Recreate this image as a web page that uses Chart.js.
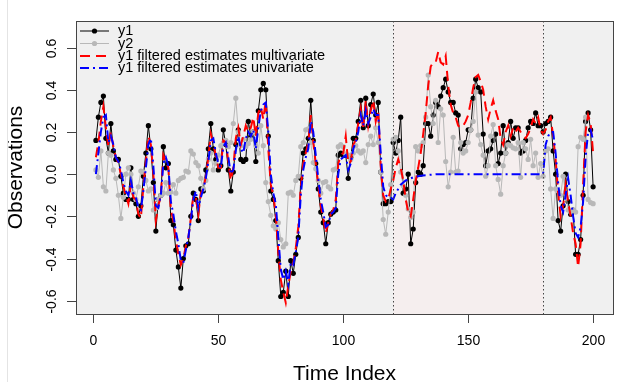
<!DOCTYPE html>
<html>
<head>
<meta charset="utf-8">
<script src="https://cdn.jsdelivr.net/npm/chart.js@4.4.1/dist/chart.umd.min.js"></script>
<style>
html,body{margin:0;padding:0;background:#fff;}
#wrap{width:642px;height:382px;}
</style>
</head>
<body>
<div id="wrap"><canvas id="kfChart" width="642" height="382"></canvas></div>
<script>
// observed series, index 1..200
const y1Obs = [0.16,0.27,0.34,0.37,0.17,0.10,0.24,0.11,0.07,0.07,
-0.01,-0.09,-0.12,-0.12,0.03,-0.12,-0.14,-0.20,-0.15,-0.01,
0.10,0.23,0.12,-0.04,-0.27,-0.12,-0.10,0.13,0.03,0.05,
-0.22,-0.24,-0.36,-0.44,-0.54,-0.40,-0.34,-0.33,-0.20,-0.09,
-0.12,-0.22,-0.07,-0.08,0.02,0.12,0.24,0.12,0.07,0.02,
0.04,0.21,0.14,0.02,-0.08,0.01,0.14,0.21,0.07,0.06,
0.07,0.25,0.18,0.20,0.06,0.30,0.40,0.43,0.40,0.18,
-0.08,-0.12,-0.22,-0.41,-0.58,-0.56,-0.46,-0.58,-0.41,-0.47,
-0.38,-0.30,-0.02,0.10,0.12,0.17,0.35,0.16,0.05,-0.07,
-0.18,-0.23,-0.33,-0.23,-0.19,-0.18,-0.17,0.09,0.10,0.09,
0.09,-0.02,0.08,0.17,0.17,0.25,0.35,0.22,0.36,0.23,
0.33,0.38,0.28,0.34,0.01,-0.14,-0.14,-0.13,-0.13,0.15,
0.10,0.16,0.27,-0.09,-0.07,0.00,-0.33,-0.26,-0.04,0.01,
0.00,0.04,0.24,0.24,0.18,0.28,0.34,0.32,0.37,0.41,
0.45,0.39,0.34,0.34,0.29,0.28,0.12,0.14,0.15,0.21,
0.21,0.36,0.45,0.41,0.39,0.19,0.04,0.11,0.12,0.16,
0.19,0.05,0.10,0.23,0.10,0.15,0.25,0.17,0.22,0.22,
0.10,0.11,0.16,0.22,0.25,0.24,0.29,0.23,0.23,0.20,
0.24,0.25,0.27,0.11,0.00,-0.22,-0.27,-0.15,0.00,-0.13,
-0.19,-0.17,-0.38,-0.38,-0.31,-0.10,0.25,0.29,0.21,-0.06];

const y2Obs = [0.02,-0.015,0.11,-0.06,-0.08,0.10,0.09,0.02,-0.02,-0.10,
-0.21,-0.11,0.00,0.03,0.00,-0.09,-0.12,-0.06,0.015,0.01,
-0.03,-0.08,-0.07,-0.17,-0.16,-0.12,-0.10,-0.09,-0.04,-0.09,
-0.085,-0.05,-0.09,-0.03,-0.02,-0.015,0.015,0.01,0.11,0.095,
0.055,0.04,-0.02,-0.07,-0.03,0.07,0.10,0.02,0.05,0.09,
0.135,0.15,0.16,0.13,0.15,0.24,0.36,0.20,0.135,0.165,
0.13,0.145,0.165,0.20,0.135,0.10,0.23,0.135,-0.04,-0.13,
-0.195,-0.245,-0.26,-0.23,-0.31,-0.345,-0.33,-0.09,-0.085,-0.10,
-0.03,-0.01,0.13,0.15,0.21,0.215,0.15,0.055,0.025,-0.03,
-0.09,-0.04,-0.035,-0.06,-0.07,0.02,0.025,0.13,0.14,0.13,
0.095,0.09,0.07,0.10,0.135,0.11,0.10,0.11,0.055,0.14,
0.18,0.14,0.22,0.15,0.01,-0.215,-0.285,-0.18,-0.05,0.165,
0.175,0.11,0.01,-0.055,-0.10,-0.165,-0.205,-0.18,0.13,0.11,
0.135,0.15,0.27,0.47,0.32,0.24,0.35,0.15,0.31,0.28,
0.06,-0.06,0.01,0.175,0.01,0.015,0.15,0.10,0.11,0.15,
0.21,0.25,0.39,0.185,0.14,0.09,-0.01,0.04,0.18,0.235,
0.04,-0.025,-0.095,0.04,0.10,0.14,0.135,0.125,0.12,0.15,
-0.015,0.15,0.12,0.07,0.165,0.04,0.10,-0.015,0.05,-0.01,
0.11,0.12,-0.07,-0.21,-0.07,-0.08,-0.10,-0.01,-0.09,-0.17,
-0.18,-0.17,-0.18,0.13,0.175,0.165,0.27,-0.12,-0.135,-0.14];

// filtered estimates of y1
const y1FiltMulti = [0.08,0.15,0.25,0.32,0.22,0.13,0.20,0.13,0.08,0.05,
0.00,-0.06,-0.10,-0.14,-0.05,-0.11,-0.12,-0.19,-0.21,-0.06,
0.06,0.18,0.14,0.00,-0.22,-0.15,-0.10,0.09,0.06,0.03,
-0.17,-0.22,-0.31,-0.38,-0.43,-0.40,-0.34,-0.30,-0.21,-0.10,
-0.11,-0.19,-0.09,-0.07,-0.01,0.08,0.19,0.14,0.09,0.03,
0.03,0.16,0.15,0.06,-0.03,0.03,0.17,0.22,0.14,0.18,
0.23,0.20,0.22,0.27,0.18,0.29,0.32,0.26,0.35,0.12,
-0.05,-0.10,-0.19,-0.37,-0.50,-0.56,-0.61,-0.53,-0.46,-0.42,
-0.35,-0.25,-0.06,0.05,0.10,0.15,0.28,0.15,0.05,-0.05,
-0.15,-0.21,-0.28,-0.23,-0.19,-0.17,-0.12,0.05,0.09,0.10,
0.18,0.05,0.06,0.14,0.16,0.24,0.31,0.21,0.35,0.23,
0.30,0.35,0.25,0.30,0.04,-0.10,-0.13,-0.12,-0.07,-0.03,
0.03,0.07,0.03,-0.03,-0.12,-0.18,-0.20,-0.12,-0.03,0.03,
0.10,0.19,0.29,0.42,0.51,0.53,0.53,0.58,0.53,0.52,
0.56,0.42,0.33,0.29,0.27,0.23,0.22,0.23,0.25,0.28,
0.34,0.41,0.46,0.47,0.44,0.40,0.32,0.26,0.31,0.35,
0.30,0.26,0.17,0.14,0.20,0.23,0.18,0.22,0.20,0.22,
0.20,0.18,0.17,0.19,0.22,0.26,0.24,0.27,0.21,0.19,
0.21,0.25,0.27,0.18,0.07,-0.09,-0.20,-0.15,-0.05,-0.13,
-0.20,-0.28,-0.33,-0.44,-0.33,-0.05,0.20,0.28,0.24,0.10];

const y1FiltUni = [0.00,0.10,0.20,0.27,0.28,0.15,0.18,0.14,0.08,0.06,
0.02,-0.04,-0.08,-0.10,-0.03,-0.09,-0.11,-0.16,-0.17,-0.08,
0.03,0.14,0.17,0.04,-0.15,-0.16,-0.10,0.05,0.08,0.04,
-0.13,-0.19,-0.27,-0.33,-0.41,-0.42,-0.36,-0.30,-0.22,-0.12,
-0.08,-0.16,-0.11,-0.07,-0.02,0.06,0.16,0.17,0.10,0.05,
0.03,0.13,0.15,0.08,0.00,0.02,0.11,0.18,0.12,0.10,
0.17,0.20,0.18,0.21,0.12,0.22,0.30,0.33,0.34,0.20,
0.00,-0.09,-0.14,-0.30,-0.45,-0.50,-0.46,-0.52,-0.42,-0.43,
-0.37,-0.30,-0.10,0.02,0.08,0.12,0.25,0.20,0.09,-0.02,
-0.12,-0.18,-0.25,-0.24,-0.19,-0.18,-0.16,0.00,0.07,0.08,
0.09,0.02,0.05,0.12,0.15,0.20,0.28,0.23,0.30,0.24,
0.27,0.31,0.28,0.28,0.10,-0.06,-0.10,-0.11,-0.11,-0.12,
-0.09,-0.07,-0.05,-0.04,-0.03,-0.025,-0.02,-0.015,-0.012,-0.01,
-0.008,-0.006,-0.005,-0.004,-0.003,-0.002,-0.001,-0.001,0,0,
0,0,0,0,0,0,0,0,0,0,
0,0,0,0,0,0,0,0,0,0,
0,0,0,0,0,0,0,0,0,0,
0,0,0,0,0,0,0,0,0,0,
0.14,0.18,0.20,0.20,0.10,-0.04,-0.15,-0.18,-0.10,-0.02,
-0.10,-0.20,-0.28,-0.30,-0.25,-0.13,0.08,0.20,0.21,0.16];

// axes
const xTicks = [0, 50, 100, 150, 200];
const yTicks = [-0.6, -0.4, -0.2, 0.0, 0.2, 0.4, 0.6];
const yTickLabels = ["-0.6", "-0.4", "-0.2", "0.0", "0.2", "0.4", "0.6"];
const gapStart = 120, gapEnd = 180;

const legendLabels = ["y1", "y2", "y1 filtered estimates multivariate", "y1 filtered estimates univariate"];

const plotBg = "#f0f0f0";
const gapBg = "#f5eeee";
const grayCol = "#b8b8b8";
const FONT = "'Liberation Sans', Arial, Helvetica, sans-serif";

function toPoints(arr){
    return arr.map(function(v, i){ return {x: i + 1, y: v}; });
}

// background, gap shading, box, R-like axes, legend
const rStylePlot = {
    id: 'rStylePlot',
    beforeDatasetsDraw: function(chart){
        var ctx = chart.ctx, a = chart.chartArea, x = chart.scales.x;
        ctx.save();
        ctx.fillStyle = plotBg;
        ctx.fillRect(a.left, a.top, a.right - a.left, a.bottom - a.top);
        var g0 = x.getPixelForValue(gapStart), g1 = x.getPixelForValue(gapEnd);
        ctx.fillStyle = gapBg;
        ctx.fillRect(g0, a.top, g1 - g0, a.bottom - a.top);
        ctx.restore();
    },
    afterDatasetsDraw: function(chart){
        var ctx = chart.ctx, a = chart.chartArea, x = chart.scales.x, y = chart.scales.y;
        ctx.save();
        // dotted lines at gap limits
        ctx.strokeStyle = "#444";
        ctx.lineWidth = 1;
        ctx.setLineDash([1.5, 2.5]);
        [gapStart, gapEnd].forEach(function(v){
            var px = Math.round(x.getPixelForValue(v)) + 0.5;
            ctx.beginPath(); ctx.moveTo(px, a.top); ctx.lineTo(px, a.bottom); ctx.stroke();
        });
        ctx.setLineDash([]);

        // box
        ctx.strokeStyle = "#444";
        ctx.strokeRect(Math.round(a.left) + 0.5, Math.round(a.top) + 0.5,
            Math.round(a.right - a.left), Math.round(a.bottom - a.top));

        // x axis ticks + labels
        ctx.fillStyle = "#000";
        ctx.font = "14px " + FONT;
        ctx.textAlign = "center";
        ctx.textBaseline = "middle";
        xTicks.forEach(function(t){
            var px = Math.round(x.getPixelForValue(t)) + 0.5;
            ctx.beginPath(); ctx.moveTo(px, a.bottom); ctx.lineTo(px, a.bottom + 9); ctx.stroke();
            ctx.fillText(String(t), px, a.bottom + 27);
        });

        // y axis ticks + rotated labels
        yTicks.forEach(function(t, i){
            var py = Math.round(y.getPixelForValue(t)) + 0.5;
            ctx.beginPath(); ctx.moveTo(a.left, py); ctx.lineTo(a.left - 9, py); ctx.stroke();
            ctx.save();
            ctx.translate(a.left - 24, py);
            ctx.rotate(-Math.PI / 2);
            ctx.fillText(yTickLabels[i], 0, 0);
            ctx.restore();
        });

        // axis titles
        ctx.font = "21px " + FONT;
        ctx.textBaseline = "alphabetic";
        ctx.fillText("Time Index", (a.left + a.right) / 2, 380);
        ctx.save();
        ctx.translate(22, (a.top + a.bottom) / 2);
        ctx.rotate(-Math.PI / 2);
        ctx.fillText("Observations", 0, 0);
        ctx.restore();

        // legend
        var rowsY = [31, 43.5, 56, 68];
        var lx0 = 80, lx1 = 109, tx = 118;
        ctx.font = "14.5px " + FONT;
        ctx.textAlign = "left";
        ctx.textBaseline = "middle";
        var styles = [
            {c: "#000", w: 1, d: [], pt: true},
            {c: grayCol, w: 1, d: [], pt: true},
            {c: "#ff0000", w: 2, d: [10, 6], pt: false},
            {c: "#0000ff", w: 2, d: [9, 4, 2, 4], pt: false}
        ];
        styles.forEach(function(s, i){
            ctx.strokeStyle = s.c; ctx.lineWidth = s.w; ctx.setLineDash(s.d);
            ctx.beginPath(); ctx.moveTo(lx0, rowsY[i]); ctx.lineTo(lx1, rowsY[i]); ctx.stroke();
            ctx.setLineDash([]);
            if (s.pt){
                ctx.fillStyle = s.c;
                ctx.beginPath(); ctx.arc((lx0 + lx1) / 2, rowsY[i], 2.6, 0, Math.PI * 2); ctx.fill();
            }
            ctx.fillStyle = "#000";
            ctx.fillText(legendLabels[i], tx, rowsY[i]);
        });
        ctx.restore();
    },
    afterDraw: function(chart){
        // faint page edge line seen at the left of the picture
        var ctx = chart.ctx;
        ctx.save();
        ctx.strokeStyle = "#e4e4e4";
        ctx.beginPath(); ctx.moveTo(7.5, 0); ctx.lineTo(7.5, 382); ctx.stroke();
        ctx.restore();
    }
};

new Chart(document.getElementById("kfChart"), {
    type: 'line',
    data: {
        datasets: [
            {
                label: legendLabels[3],
                data: toPoints(y1FiltUni),
                borderColor: "#0000ff",
                borderWidth: 2,
                borderDash: [9, 4, 2, 4],
                pointRadius: 0,
                fill: false,
                tension: 0
            },
            {
                label: legendLabels[2],
                data: toPoints(y1FiltMulti),
                borderColor: "#ff0000",
                borderWidth: 2,
                borderDash: [10, 6],
                pointRadius: 0,
                fill: false,
                tension: 0
            },
            {
                label: legendLabels[1],
                data: toPoints(y2Obs),
                borderColor: grayCol,
                borderWidth: 1,
                pointRadius: 2.6,
                pointBorderWidth: 0,
                pointBackgroundColor: grayCol,
                fill: false,
                tension: 0
            },
            {
                label: legendLabels[0],
                data: toPoints(y1Obs),
                borderColor: "#000",
                borderWidth: 1,
                pointRadius: 2.6,
                pointBorderWidth: 0,
                pointBackgroundColor: "#000",
                fill: false,
                tension: 0
            }
        ]
    },
    options: {
        responsive: false,
        animation: false,
        events: [],
        layout: { padding: { left: 76, right: 29, top: 21, bottom: 68 } },
        scales: {
            x: { type: 'linear', min: -6.96, max: 207.96, display: false },
            y: { type: 'linear', min: -0.663, max: 0.726, display: false }
        },
        plugins: {
            legend: { display: false },
            tooltip: { enabled: false }
        }
    },
    plugins: [rStylePlot]
});
</script>
</body>
</html>
